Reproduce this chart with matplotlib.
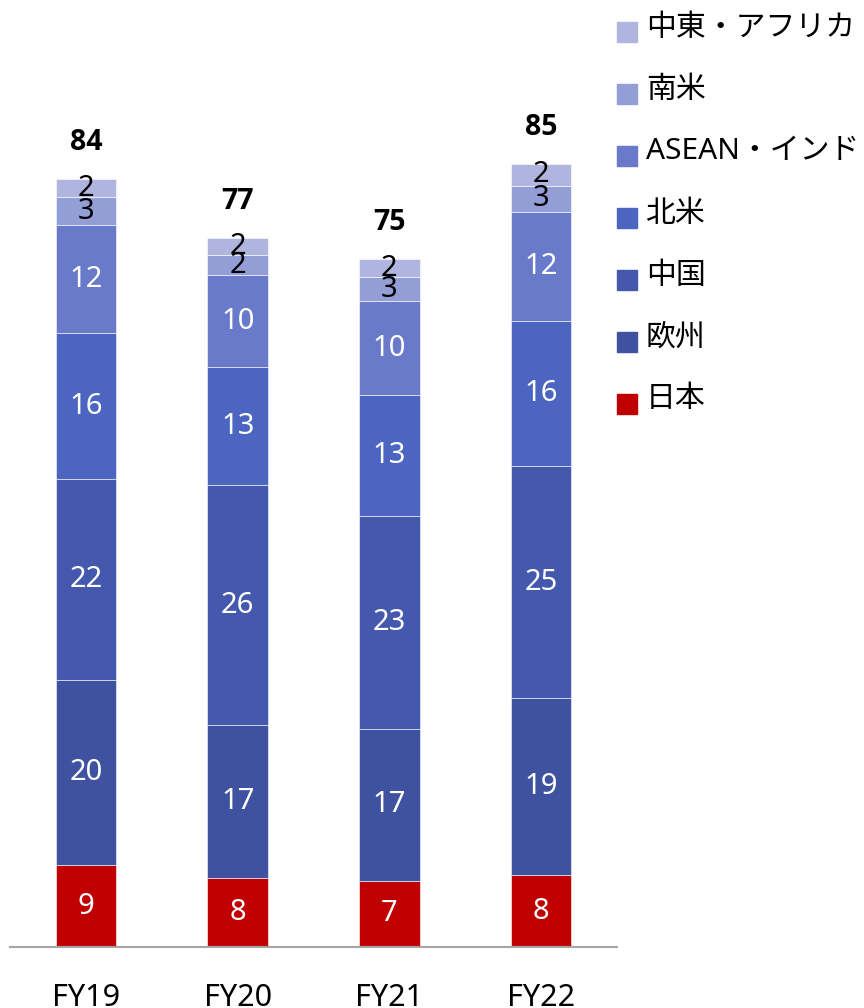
import matplotlib
matplotlib.use("Agg")
import matplotlib.pyplot as plt
from matplotlib.patches import Rectangle

plt.rcParams['font.family'] = ['Noto Sans', 'Noto Sans CJK JP', 'DejaVu Sans']

years = ["FY19", "FY20", "FY21", "FY22"]
regions = ["日本", "欧州", "中国", "北米", "ASEAN・インド", "南米", "中東・アフリカ"]
japan   = [8.94, 7.52, 7.2, 7.8]
europe  = [20.17, 16.68, 16.58, 19.3]
china   = [21.92, 26.17, 23.2, 25.3]
namer   = [15.92, 12.87, 13.2, 15.9]
asean   = [11.78, 10.03, 10.25, 11.9]
samer   = [3.05, 2.18, 2.6, 2.84]
mea     = [1.96, 1.85, 1.96, 2.3]
labels_seg = [
    [9, 8, 7, 8],
    [20, 17, 17, 19],
    [22, 26, 23, 25],
    [16, 13, 13, 16],
    [12, 10, 10, 12],
    [3, 2, 3, 3],
    [2, 2, 2, 2],
]
totals = [84, 77, 75, 85]

series = [japan, europe, china, namer, asean, samer, mea]
colors = ["#C00000", "#3F529F", "#4459AE", "#4B65C0", "#6A7ACB", "#939DD6", "#B0B5DF"]
txt_colors = ["white"] * 5 + ["black", "black"]

fig = plt.figure(figsize=(8.64, 10.08), dpi=100)
W, H = 864, 1008
ax = fig.add_axes([10 / W, 1 - 947 / H, 607 / W, 917 / H])

x = list(range(len(years)))
bottoms = [0.0] * len(years)
for vals, col, lab, tc in zip(series, colors, labels_seg, txt_colors):
    ax.bar(x, vals, width=0.4, bottom=bottoms, color=col, edgecolor="white",
           linewidth=0.4)
    for i in x:
        yc = bottoms[i] + vals[i] / 2
        ax.text(i, yc, str(lab[i]), ha="center", va="center", color=tc, fontsize=21)
    bottoms = [b + v for b, v in zip(bottoms, vals)]

for i in x:
    ax.text(i, bottoms[i] + 2.4, str(totals[i]), ha="center", va="bottom",
            fontsize=20.5, fontweight="bold", color="black",
            family=["Open Sans", "DejaVu Sans"])

ax.set_xlim(-0.5, 3.5)
ax.set_ylim(0, 100)
ax.set_yticks([])
ax.set_xticks(x)
ax.set_xticklabels(years, fontsize=22)
ax.tick_params(axis="x", length=0, pad=26)
for s in ["top", "right", "left"]:
    ax.spines[s].set_visible(False)
ax.spines["bottom"].set_color("#A6A6A6")
ax.spines["bottom"].set_linewidth(1.5)

# legend (top = 中東・アフリカ)
leg_items = list(zip(regions, colors))[::-1]
for k, (name, col) in enumerate(leg_items):
    yc = 32 + 62 * k
    fig.add_artist(Rectangle((617 / W, 1 - (yc + 10) / H), 20 / W, 20 / H,
                             transform=fig.transFigure, color=col))
    fig.text(646 / W, 1 - (yc - 4) / H, name, fontsize=21.5, va="center", ha="left")

fig.savefig("out.png", dpi=100)
